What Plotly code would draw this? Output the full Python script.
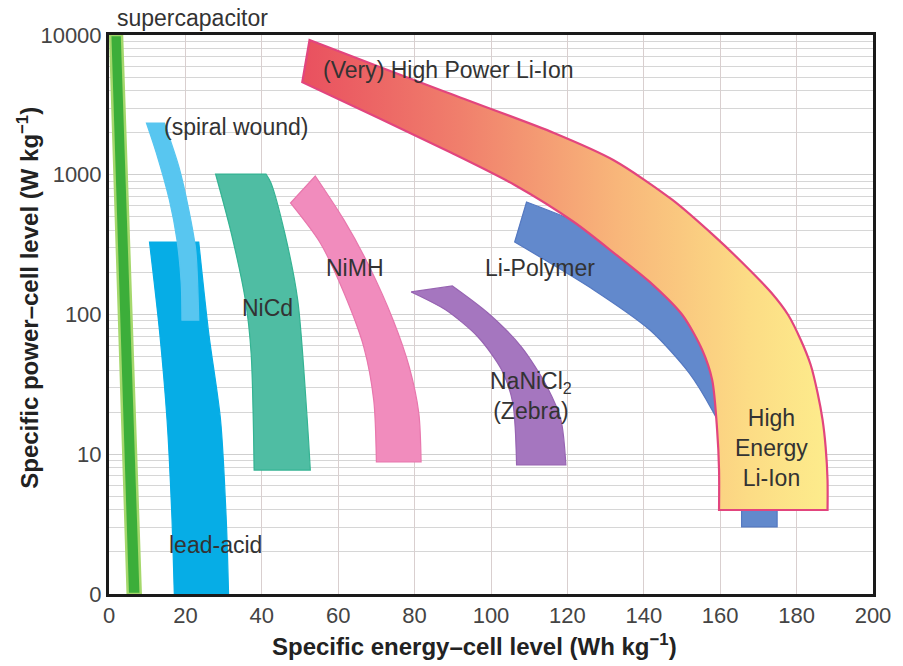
import numpy as np
import plotly.graph_objects as go

# ---------------- data (energy Wh/kg, power W/kg) ----------------
supercap_x = [0.3, 3.4, 8.3, 4.9]
supercap_y = [10000, 10000, 1, 1]

lead_x = [23.5, 26.1, 29.2, 30.7, 31.3, 17.1, 16.5, 15.2, 13.2, 10.6]
lead_y = [330, 73.7, 17.6, 3.38, 1, 1, 3.38, 17.6, 77.5, 330]

spiral_x = [14.5, 18.3, 20.9, 22.7, 23.5, 19.1, 18.9, 17.8, 15.8, 12.4, 9.8]
spiral_y = [2345, 1136, 559, 290, 91, 91, 168, 341, 660, 1431, 2345]

nicd_x = [27.9, 41.1, 42.4, 46.0, 49.4, 51.9, 52.7, 38.0, 37.2, 35.7, 32.0]
nicd_y = [1012, 1012, 873, 383, 127, 17.6, 7.71, 7.71, 53, 127, 383]

nimh_x = [54.0, 61.5, 68.2, 74.4, 78.6, 81.1, 81.7, 70.0, 69.3, 66.7, 61.5, 55.3, 47.5]
nimh_y = [980, 475, 219, 91, 42.1, 19.7, 8.8, 8.8, 24.4, 58.5, 143, 325, 628]

zebra_x = [89.9, 99.2, 108.0, 114.7, 118.3, 119.6, 106.7, 105.7, 102.8, 96.6, 88.1, 79.1]
zebra_y = [160, 102.5, 58.5, 30.3, 17.6, 8.38, 8.38, 23.3, 40.1, 69, 108, 145]

lipoly_x = [109.3, 126.9, 139.8, 152.7, 163.0, 172.1, 174.9, 174.9, 165.6, 165.6,
            163.0, 157.9, 151.9, 141.6, 126.9, 106.2]
lipoly_y = [638, 402, 226, 108, 47.2, 17.6, 7.71, 3.02, 3.02, 4.71,
            10.7, 20.7, 38.1, 77.5, 150, 330]

liion_x = [52.5, 88.1, 116.5, 132.0, 147.5, 158.7, 166.4, 173.4, 177.8, 181.1,
           183.7, 185.5, 186.8, 187.6, 188.1, 188.1, 159.7,
           159.7, 159.2, 157.9, 155.3, 150.1, 142.4, 132.8, 121.7, 106.2, 88.1, 50.6]
liion_y = [9200, 3909, 1990, 1275, 660, 359, 226, 143, 99.2, 65.7,
           43.5, 27.4, 17.6, 11.3, 6.54, 3.99, 3.99,
           7.71, 14.9, 34, 55.7, 99.2, 163, 267, 459, 845, 1503, 4600]

x_ticks = [0, 20, 40, 60, 80, 100, 120, 140, 160, 180, 200]
y_ticks = [1, 10, 100, 1000, 10000]
y_ticktext = ["0", "10", "100", "1000", "10000"]

labels = ["(Very) High Power Li-Ion", "(spiral wound)", "NiCd", "NiMH", "Li-Polymer",
          "NaNiCl<sub>2</sub><br>(Zebra)", "High<br>Energy<br>Li-Ion", "lead-acid"]
label_x = [88.9, 33.2, 41.6, 64.3, 112.7, 110.5, 173.4, 27.9]
label_y = [5620, 2197, 111, 215, 215, 26.1, 11.1, 2.24]

FONT = "Arial, Liberation Sans, Helvetica, sans-serif"

# ---------------- figure ----------------
fig = go.Figure()


def outline(x, y, corners):
    """Close the outline; corner vertices are repeated so the spline keeps them sharp."""
    px, py = [], []
    n = len(x)
    for i in list(range(n)) + [0]:
        px.append(x[i]); py.append(y[i])
        if i in corners:
            px.append(x[i]); py.append(y[i])
    return px, py


def band(x, y, corners, fill, line, width=1.2, shape="spline", **extra):
    px, py = outline(x, y, corners)
    kw = dict(fillcolor=fill) if fill else {}
    kw.update(extra)
    fig.add_trace(go.Scatter(x=px, y=py, mode="lines", fill="toself",
                             line=dict(color=line, width=width, shape=shape,
                                       smoothing=0.8, simplify=False),
                             hoverinfo="skip", showlegend=False, **kw))


band(supercap_x, supercap_y, {0, 1, 2, 3}, "#3cae3a", "#a5d86c", 2.5, "linear")
band(lead_x, lead_y, {0, 4, 5, 9}, "#06ade6", "#06ade6")
band(spiral_x, spiral_y, {0, 4, 5, 10}, "#58c6f0", "#58c6f0")
band(nicd_x, nicd_y, {0, 1, 6, 7}, "#4fbda3", "#35b393")
band(nimh_x, nimh_y, {0, 6, 7, 12}, "#f18cbd", "#e877ad")
band(zebra_x, zebra_y, {0, 5, 6, 11}, "#a576bf", "#9764b2")
band(lipoly_x, lipoly_y, {0, 6, 7, 8, 9, 15}, "#6289cc", "#5579c1")
band(liion_x, liion_y, {0, 15, 16, len(liion_x) - 1}, None, "#e2457e", 2.2,
     fillgradient=dict(type="horizontal",
                       colorscale=[[0, "#e9505f"], [0.3, "#f07f6c"], [0.6, "#f8b67a"],
                                   [0.85, "#fcdc85"], [1, "#fdec8c"]]))

for t, lx, ly in zip(labels, label_x, label_y):
    fig.add_annotation(x=lx, y=np.log10(ly), text=t, showarrow=False,
                       font=dict(family=FONT, size=23, color="#333333"),
                       xanchor="center", yanchor="middle")

fig.add_annotation(xref="paper", yref="paper", x=0.008, y=1.031, text="supercapacitor",
                   showarrow=False, xanchor="left", yanchor="middle",
                   font=dict(family=FONT, size=23, color="#333333"))

fig.add_annotation(xref="paper", yref="paper", x=0.479, y=-0.091,
                   text="<b>Specific energy–cell level (Wh kg<sup>−1</sup>)</b>", showarrow=False,
                   font=dict(family=FONT, size=24, color="#222222"),
                   xanchor="center", yanchor="middle")
fig.add_annotation(xref="paper", yref="paper", x=-0.106, y=0.53, textangle=-90,
                   text="<b>Specific power–cell level (W kg<sup>−1</sup>)</b>", showarrow=False,
                   font=dict(family=FONT, size=24, color="#222222"),
                   xanchor="center", yanchor="middle")

fig.update_layout(
    width=903, height=666,
    margin=dict(l=109, r=20, t=35, b=72),
    paper_bgcolor="white", plot_bgcolor="white",
    showlegend=False,
    xaxis=dict(range=[0, 200], tickvals=x_ticks, showgrid=True, gridcolor="#d9cfcf",
               gridwidth=1, zeroline=False, showline=True, mirror=True,
               linecolor="#1a1a1a", linewidth=3, ticks="",
               tickfont=dict(family=FONT, size=22, color="#444444")),
    yaxis=dict(type="log", range=[0, 4], tickvals=y_ticks, ticktext=y_ticktext,
               showgrid=True, gridcolor="#cfcfcf", gridwidth=1, zeroline=False,
               showline=True, mirror=True, linecolor="#1a1a1a", linewidth=3, ticks="",
               minor=dict(showgrid=True, dtick="D1", gridcolor="#d6d6d6", gridwidth=1),
               tickfont=dict(family=FONT, size=22, color="#444444")),
)

fig.write_html("out.html")
